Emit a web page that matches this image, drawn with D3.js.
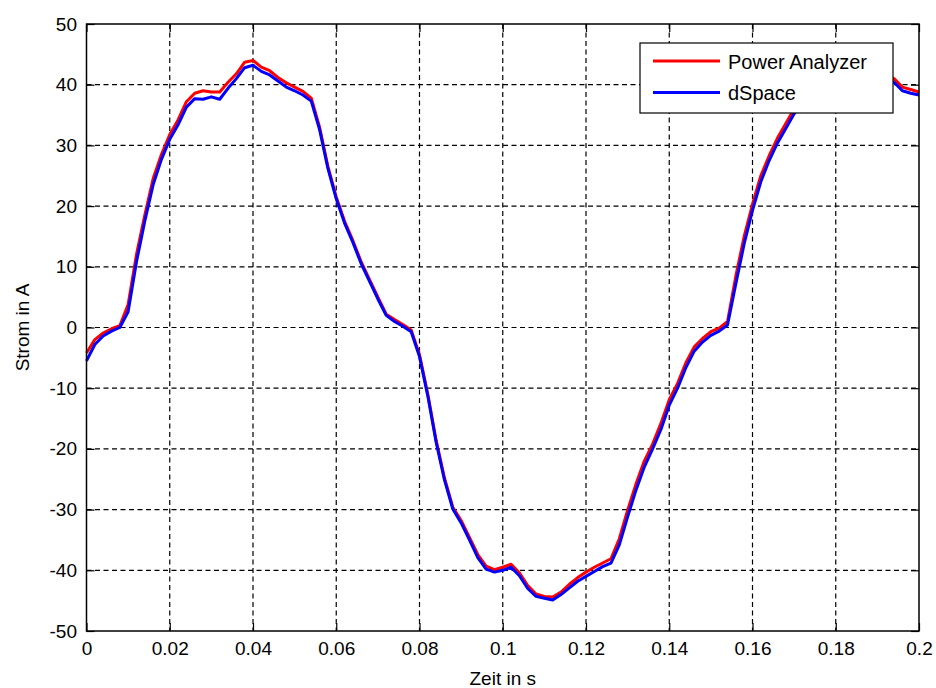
<!DOCTYPE html>
<html>
<head>
<meta charset="utf-8">
<script src="https://cdn.jsdelivr.net/npm/d3@7"></script>
<style>
  html, body { margin: 0; padding: 0; background: #fff; }
  text { font-family: "Liberation Sans", Arial, sans-serif; fill: #000; }
</style>
</head>
<body>
<svg id="chart" width="936" height="688"></svg>
<script>
// ---- data ----
const time = [
  0.000,0.002,0.004,0.006,0.008,0.010,0.012,0.014,0.016,0.018,
  0.020,0.022,0.024,0.026,0.028,0.030,0.032,0.034,0.036,0.038,
  0.040,0.042,0.044,0.046,0.048,0.050,0.052,0.054,0.056,0.058,
  0.060,0.062,0.064,0.066,0.068,0.070,0.072,0.074,0.076,0.078,
  0.080,0.082,0.084,0.086,0.088,0.090,0.092,0.094,0.096,0.098,
  0.100,0.102,0.104,0.106,0.108,0.110,0.112,0.114,0.116,0.118,
  0.120,0.122,0.124,0.126,0.128,0.130,0.132,0.134,0.136,0.138,
  0.140,0.142,0.144,0.146,0.148,0.150,0.152,0.154,0.156,0.158,
  0.160,0.162,0.164,0.166,0.168,0.170,0.172,0.174,0.176,0.178,
  0.180,0.182,0.184,0.186,0.188,0.190,0.192,0.194,0.196,0.198,
  0.200
];
const powerAnalyzer = [
  -4.2,-2.0,-0.9,-0.2,0.3,3.8,12.0,18.5,24.5,28.5,
  31.8,34.2,37.2,38.6,39.0,38.8,38.8,40.4,41.8,43.7,
  44.0,42.9,42.3,41.2,40.3,39.6,38.9,37.8,33.0,26.5,
  21.5,17.5,14.3,10.8,7.9,5.0,2.2,1.3,0.5,-0.4,
  -4.5,-11.0,-18.6,-24.8,-29.6,-31.8,-34.6,-37.4,-39.3,-39.9,
  -39.5,-39.0,-40.4,-42.5,-43.9,-44.3,-44.4,-43.6,-42.3,-41.2,
  -40.3,-39.5,-38.8,-38.1,-34.8,-30.1,-25.8,-22.0,-19.2,-15.8,
  -11.9,-9.2,-5.8,-3.2,-1.8,-0.7,-0.1,1.0,8.5,15.0,
  20.3,25.0,28.3,31.2,33.6,36.0,37.8,38.7,38.9,38.8,
  40.2,42.0,43.8,43.6,42.7,42.0,41.6,41.0,39.6,39.2,
  38.8
];
const dSpace = [
  -5.5,-2.8,-1.4,-0.6,0.0,2.6,10.8,17.5,23.5,27.7,
  31.0,33.4,36.3,37.7,37.6,38.0,37.6,39.4,41.0,42.8,
  43.2,42.2,41.6,40.6,39.6,39.0,38.3,37.3,32.6,26.2,
  21.2,17.2,14.0,10.5,7.6,4.7,2.0,1.0,0.2,-0.7,
  -4.8,-11.3,-18.9,-25.1,-29.9,-32.2,-35.0,-37.9,-39.8,-40.3,
  -40.0,-39.5,-40.9,-43.0,-44.3,-44.6,-44.9,-44.0,-42.9,-41.8,
  -41.0,-40.2,-39.4,-38.8,-35.8,-31.2,-26.8,-23.0,-20.0,-16.8,
  -12.8,-10.0,-6.6,-3.9,-2.4,-1.3,-0.6,0.4,7.2,13.8,
  19.3,24.0,27.5,30.4,32.8,35.2,37.0,37.8,37.9,38.0,
  39.3,41.2,43.0,42.9,42.0,41.4,41.0,40.4,39.0,38.6,
  38.3
];
const xTicks = [0,0.02,0.04,0.06,0.08,0.1,0.12,0.14,0.16,0.18,0.2];
const xTickLabels = ["0","0.02","0.04","0.06","0.08","0.1","0.12","0.14","0.16","0.18","0.2"];
const yTicks = [-50,-40,-30,-20,-10,0,10,20,30,40,50];
const yTickLabels = ["-50","-40","-30","-20","-10","0","10","20","30","40","50"];
const seriesNames = ["Power Analyzer","dSpace"];
const seriesColors = ["#ff0000","#0000ff"];

// ---- layout ----
const svg = d3.select("#chart");
const L = 86.5, R = 919, T = 24, B = 631;
const x = d3.scaleLinear().domain([0,0.2]).range([L,R]);
const y = d3.scaleLinear().domain([-50,50]).range([B,T]);

const fontSize = 19;

// grid
const grid = svg.append("g");
grid.selectAll("line.vx").data(xTicks.slice(1,-1)).enter().append("line")
  .attr("x1", d=>x(d)).attr("x2", d=>x(d)).attr("y1", T).attr("y2", B)
  .attr("stroke","#000").attr("stroke-width",1.2).attr("stroke-dasharray","5,3.5");
grid.selectAll("line.hy").data(yTicks.slice(1,-1)).enter().append("line")
  .attr("y1", d=>y(d)).attr("y2", d=>y(d)).attr("x1", L).attr("x2", R)
  .attr("stroke","#000").attr("stroke-width",1.2).attr("stroke-dasharray","5,3.5");

// axes with inward ticks
const xAxis = svg.append("g").attr("transform",`translate(0,${B})`)
  .call(d3.axisBottom(x).tickValues(xTicks).tickFormat((d,i)=>xTickLabels[i]).tickSizeInner(-8).tickSizeOuter(0).tickPadding(11));
const xAxisTop = svg.append("g").attr("transform",`translate(0,${T})`)
  .call(d3.axisTop(x).tickValues(xTicks).tickFormat("").tickSizeInner(-8).tickSizeOuter(0));
const yAxis = svg.append("g").attr("transform",`translate(${L},0)`)
  .call(d3.axisLeft(y).tickValues(yTicks).tickFormat((d,i)=>yTickLabels[i]).tickSizeInner(-8).tickSizeOuter(0).tickPadding(9.5));
const yAxisRight = svg.append("g").attr("transform",`translate(${R},0)`)
  .call(d3.axisRight(y).tickValues(yTicks).tickFormat("").tickSizeInner(-8).tickSizeOuter(0));
[xAxis,xAxisTop,yAxis,yAxisRight].forEach(g=>{
  g.select(".domain").remove();
  g.selectAll(".tick line").attr("stroke","#000").attr("stroke-width",1.2);
  g.selectAll(".tick text").attr("font-size",fontSize).attr("fill","#000")
   .attr("font-family","Liberation Sans, Arial, sans-serif");
});

// data lines
const line = d3.line().x((d,i)=>x(time[i])).y(d=>y(d)).curve(d3.curveLinear);
const plot = svg.append("g");
[powerAnalyzer, dSpace].forEach((s,k)=>{
  plot.append("path").datum(s).attr("d", line).attr("fill","none")
    .attr("stroke", seriesColors[k]).attr("stroke-width",3).attr("stroke-linejoin","round");
});

// box
svg.append("rect").attr("x",L).attr("y",T).attr("width",R-L).attr("height",B-T)
  .attr("fill","none").attr("stroke","#000").attr("stroke-width",1.5);

// axis labels
svg.append("text").attr("x",(L+R)/2).attr("y",685).attr("text-anchor","middle")
  .attr("font-size",fontSize).text("Zeit in s");
svg.append("text").attr("transform",`translate(29,${(T+B)/2}) rotate(-90)`)
  .attr("text-anchor","middle").attr("font-size",fontSize).text("Strom in A");

// legend
const lg = svg.append("g");
lg.append("rect").attr("x",640).attr("y",43).attr("width",253).attr("height",70)
  .attr("fill","#fff").attr("stroke","#000").attr("stroke-width",1.2);
seriesNames.forEach((n,k)=>{
  const yy = 61 + k*31.5;
  lg.append("line").attr("x1",653).attr("x2",720).attr("y1",yy).attr("y2",yy)
    .attr("stroke",seriesColors[k]).attr("stroke-width",3);
  lg.append("text").attr("x",728).attr("y",yy+7.5).attr("font-size",fontSize+1).text(n);
});
</script>
</body>
</html>
